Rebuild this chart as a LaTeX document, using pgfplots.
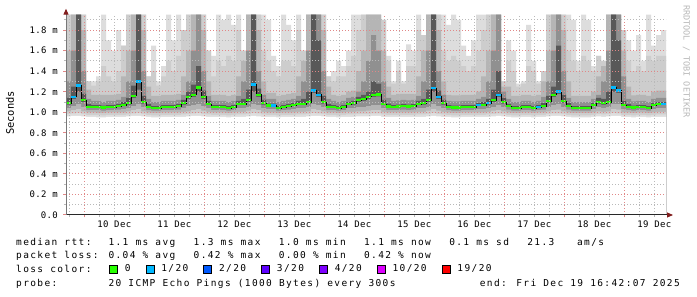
\documentclass[border=0pt]{standalone}
\usepackage{fontspec}
\setmainfont{DejaVu Sans Mono}
\usepackage{pgfplots}
\pgfplotsset{compat=1.18}
\usepackage{pgfplotstable}
\usetikzlibrary{arrows.meta}
\newfontfamily\legfam[LetterSpace=14.5]{DejaVu Sans Mono}
\newfontfamily\tickfam[LetterSpace=4]{DejaVu Sans Mono}
\newcommand\legendfont{\legfam\fontsize{9.5bp}{11bp}\selectfont}
\newcommand\tickfont{\tickfam\fontsize{9bp}{10bp}\selectfont}
\newcommand\labelfont{\fontsize{10.4bp}{12bp}\selectfont}
\newcommand\wmfont{\fontsize{8.5bp}{10bp}\selectfont}
\definecolor{gridred}{RGB}{225,135,135}
\definecolor{gridgray}{RGB}{185,185,185}
\definecolor{axisgray}{RGB}{40,40,40}
\definecolor{yaxisgray}{RGB}{120,120,120}
\definecolor{arrowred}{RGB}{130,30,30}
\definecolor{wmgray}{RGB}{185,185,185}
\definecolor{lossgreen}{HTML}{26FF00}
\definecolor{lossblue}{HTML}{00B8FF}
\definecolor{loss2}{HTML}{0059FF}
\definecolor{loss3}{HTML}{5E00FF}
\definecolor{loss4}{HTML}{7E00FF}
\definecolor{loss10}{HTML}{DD00FF}
\definecolor{loss19}{HTML}{FF0000}
\definecolor{s1}{HTML}{DDDDDD}
\definecolor{s2}{HTML}{CDCDCD}
\definecolor{s3}{HTML}{B5B5B5}
\definecolor{s4}{HTML}{909090}
\definecolor{s5}{HTML}{585858}

% t = hours since 10 Dec 00:00; m = median rtt (ms); h1..h5 / l5..l1 = smoke band edges
\pgfplotstableread{
t m h1 h2 h3 h4 h5 l5 l4 l3 l2 l1
-7.3 1.09 1.95 1.95 1.6 1.3 1.14 1.075 1.04 1.01 0.985 0.96
-5.3 1.15 1.95 1.95 1.95 1.6 1.25 1.13 1.06 1.02 0.99 0.965
-3.3 1.26 1.95 1.95 1.95 1.95 1.95 1.2 1.08 1.03 0.995 0.965
-1.3 1.12 1.95 1.95 1.8 1.4 1.18 1.1 1.05 1.01 0.985 0.96
0.7 1.05 1.3 1.3 1.22 1.13 1.08 1.04 1.02 1.0 0.975 0.955
2.7 1.05 1.3 1.26 1.17 1.11 1.07 1.04 1.02 1.0 0.975 0.955
4.7 1.05 1.35 1.3 1.17 1.11 1.07 1.04 1.02 0.995 0.975 0.95
6.7 1.045 1.95 1.45 1.17 1.1 1.065 1.035 1.015 0.995 0.97 0.95
8.7 1.05 1.7 1.35 1.17 1.11 1.07 1.04 1.02 1.0 0.975 0.955
10.7 1.05 1.6 1.3 1.17 1.11 1.07 1.04 1.02 1.0 0.975 0.955
12.7 1.06 1.8 1.4 1.18 1.12 1.08 1.05 1.025 1.0 0.975 0.955
14.7 1.07 1.65 1.65 1.35 1.15 1.1 1.06 1.03 1.0 0.975 0.955
16.7 1.09 1.95 1.95 1.6 1.3 1.14 1.075 1.04 1.01 0.98 0.96
18.7 1.16 1.95 1.95 1.95 1.6 1.26 1.14 1.06 1.02 0.99 0.965
20.7 1.30 1.95 1.95 1.95 1.95 1.95 1.22 1.08 1.03 0.995 0.965
22.7 1.10 1.95 1.95 1.8 1.4 1.16 1.085 1.05 1.01 0.985 0.96
24.7 1.05 1.35 1.35 1.25 1.13 1.08 1.04 1.02 1.0 0.975 0.955
26.7 1.04 1.65 1.4 1.16 1.1 1.06 1.03 1.015 0.995 0.97 0.95
28.7 1.04 1.3 1.26 1.16 1.1 1.06 1.03 1.015 0.995 0.97 0.95
30.7 1.05 1.45 1.35 1.17 1.11 1.07 1.04 1.02 1.0 0.975 0.955
32.7 1.05 1.95 1.5 1.17 1.11 1.07 1.04 1.02 1.0 0.975 0.955
34.7 1.05 1.7 1.4 1.17 1.11 1.07 1.04 1.02 1.0 0.975 0.955
36.7 1.06 1.95 1.55 1.18 1.12 1.08 1.05 1.025 1.0 0.975 0.955
38.7 1.09 1.8 1.8 1.35 1.17 1.12 1.075 1.04 1.005 0.98 0.955
40.7 1.15 1.95 1.95 1.6 1.3 1.2 1.13 1.06 1.01 0.985 0.96
42.7 1.17 1.95 1.95 1.95 1.6 1.27 1.15 1.07 1.02 0.99 0.965
44.7 1.24 1.95 1.95 1.95 1.95 1.45 1.2 1.08 1.03 0.995 0.965
46.7 1.15 1.95 1.95 1.8 1.4 1.21 1.13 1.06 1.015 0.985 0.96
48.7 1.08 1.6 1.6 1.3 1.16 1.11 1.07 1.04 1.005 0.98 0.955
50.7 1.05 1.55 1.35 1.17 1.11 1.07 1.04 1.02 1.0 0.975 0.955
52.7 1.05 1.95 1.5 1.17 1.11 1.07 1.04 1.02 1.0 0.975 0.955
54.7 1.05 1.9 1.45 1.17 1.11 1.07 1.04 1.02 1.0 0.975 0.955
56.7 1.04 1.95 1.55 1.16 1.1 1.06 1.03 1.015 0.995 0.97 0.95
58.7 1.05 1.85 1.5 1.17 1.11 1.07 1.04 1.02 1.0 0.975 0.955
60.7 1.08 1.95 1.8 1.35 1.16 1.11 1.07 1.04 1.005 0.98 0.955
62.7 1.08 1.6 1.6 1.5 1.3 1.13 1.07 1.04 1.005 0.98 0.955
64.7 1.12 1.95 1.95 1.95 1.6 1.22 1.1 1.05 1.015 0.985 0.96
66.7 1.27 1.95 1.95 1.95 1.95 1.95 1.2 1.08 1.03 0.995 0.965
68.7 1.17 1.95 1.95 1.8 1.4 1.23 1.15 1.07 1.02 0.99 0.96
70.7 1.09 1.95 1.6 1.3 1.17 1.12 1.075 1.04 1.005 0.98 0.955
72.7 1.065 1.9 1.5 1.19 1.13 1.085 1.055 1.03 1.0 0.975 0.955
74.7 1.065 1.55 1.4 1.19 1.13 1.085 1.055 1.03 1.0 0.975 0.955
76.7 1.04 1.45 1.35 1.16 1.1 1.06 1.03 1.015 0.995 0.97 0.95
78.7 1.05 1.95 1.5 1.17 1.11 1.07 1.04 1.02 1.0 0.975 0.955
80.7 1.06 1.85 1.5 1.18 1.12 1.08 1.05 1.025 1.0 0.975 0.955
82.7 1.07 1.7 1.45 1.19 1.13 1.09 1.06 1.03 1.0 0.975 0.955
84.7 1.08 1.95 1.8 1.35 1.16 1.11 1.07 1.04 1.005 0.98 0.955
86.7 1.08 1.6 1.6 1.5 1.3 1.13 1.07 1.04 1.005 0.98 0.955
88.7 1.10 1.95 1.95 1.95 1.6 1.2 1.085 1.05 1.01 0.985 0.96
90.7 1.21 1.95 1.95 1.95 1.95 1.95 1.19 1.08 1.03 0.995 0.965
92.7 1.17 1.95 1.95 1.95 1.95 1.7 1.15 1.07 1.02 0.99 0.965
94.7 1.10 1.95 1.95 1.8 1.4 1.16 1.085 1.05 1.01 0.985 0.96
96.7 1.05 1.35 1.35 1.25 1.13 1.08 1.04 1.02 1.0 0.975 0.955
98.7 1.05 1.4 1.3 1.17 1.11 1.07 1.04 1.02 1.0 0.975 0.955
100.7 1.04 1.5 1.35 1.16 1.1 1.06 1.03 1.015 0.995 0.97 0.95
102.7 1.05 1.45 1.35 1.17 1.11 1.07 1.04 1.02 1.0 0.975 0.955
104.7 1.08 1.6 1.45 1.2 1.14 1.1 1.07 1.04 1.005 0.98 0.955
106.7 1.09 1.95 1.55 1.21 1.15 1.11 1.075 1.04 1.005 0.98 0.955
108.7 1.12 1.95 1.8 1.4 1.2 1.15 1.1 1.05 1.01 0.985 0.96
110.7 1.13 1.95 1.95 1.6 1.3 1.17 1.11 1.05 1.01 0.985 0.96
112.7 1.15 1.95 1.95 1.95 1.5 1.2 1.13 1.06 1.015 0.985 0.96
114.7 1.17 1.95 1.95 1.95 1.75 1.3 1.15 1.07 1.02 0.99 0.965
116.7 1.175 1.95 1.95 1.95 1.6 1.28 1.155 1.07 1.02 0.99 0.965
118.7 1.08 1.9 1.9 1.6 1.3 1.12 1.07 1.04 1.005 0.98 0.955
120.7 1.055 1.55 1.5 1.25 1.14 1.085 1.045 1.02 1.0 0.975 0.955
122.7 1.05 1.3 1.28 1.17 1.11 1.07 1.04 1.02 1.0 0.975 0.955
124.7 1.055 1.5 1.4 1.18 1.115 1.075 1.045 1.02 1.0 0.975 0.955
126.7 1.06 1.3 1.28 1.18 1.12 1.08 1.05 1.025 1.0 0.975 0.955
128.7 1.055 1.66 1.45 1.18 1.115 1.075 1.045 1.02 1.0 0.975 0.955
130.7 1.06 1.6 1.45 1.18 1.12 1.08 1.05 1.025 1.0 0.975 0.955
132.7 1.08 1.95 1.8 1.35 1.16 1.11 1.07 1.04 1.005 0.98 0.955
134.7 1.09 1.75 1.75 1.6 1.3 1.13 1.075 1.04 1.005 0.98 0.955
136.7 1.12 1.95 1.95 1.95 1.6 1.22 1.1 1.05 1.015 0.985 0.96
138.7 1.235 1.95 1.95 1.95 1.95 1.95 1.2 1.08 1.03 0.995 0.965
140.7 1.15 1.95 1.95 1.8 1.4 1.21 1.13 1.06 1.015 0.985 0.96
142.7 1.09 1.95 1.6 1.3 1.17 1.12 1.075 1.04 1.005 0.98 0.955
144.7 1.05 1.85 1.5 1.17 1.11 1.07 1.04 1.02 1.0 0.975 0.955
146.7 1.045 1.95 1.55 1.165 1.105 1.065 1.035 1.015 0.995 0.97 0.95
148.7 1.045 1.9 1.5 1.165 1.105 1.065 1.035 1.015 0.995 0.97 0.95
150.7 1.05 1.65 1.45 1.17 1.11 1.07 1.04 1.02 1.0 0.975 0.955
152.7 1.05 1.55 1.4 1.17 1.11 1.07 1.04 1.02 1.0 0.975 0.955
154.7 1.05 1.7 1.45 1.17 1.11 1.07 1.04 1.02 1.0 0.975 0.955
156.7 1.07 1.95 1.6 1.2 1.13 1.09 1.06 1.03 1.0 0.975 0.955
158.7 1.07 1.95 1.8 1.35 1.15 1.1 1.06 1.03 1.0 0.975 0.955
160.7 1.09 1.95 1.95 1.6 1.3 1.13 1.075 1.04 1.005 0.98 0.955
162.7 1.12 1.95 1.95 1.95 1.6 1.22 1.1 1.05 1.015 0.985 0.96
164.7 1.17 1.95 1.95 1.95 1.95 1.4 1.15 1.07 1.02 0.99 0.965
166.7 1.10 1.3 1.3 1.25 1.2 1.14 1.085 1.05 1.01 0.985 0.96
168.7 1.06 1.7 1.5 1.25 1.13 1.08 1.05 1.025 1.0 0.975 0.955
170.7 1.04 1.6 1.4 1.16 1.1 1.06 1.03 1.015 0.995 0.97 0.95
172.7 1.04 1.28 1.25 1.16 1.1 1.06 1.03 1.015 0.995 0.97 0.95
174.7 1.05 1.3 1.28 1.17 1.11 1.07 1.04 1.02 1.0 0.975 0.955
176.7 1.05 1.85 1.45 1.17 1.11 1.07 1.04 1.02 1.0 0.975 0.955
178.7 1.04 1.5 1.4 1.16 1.1 1.06 1.03 1.015 0.995 0.97 0.95
180.7 1.05 1.3 1.28 1.17 1.11 1.07 1.04 1.02 1.0 0.975 0.955
182.7 1.06 1.4 1.4 1.3 1.15 1.09 1.05 1.025 1.0 0.975 0.955
184.7 1.11 1.95 1.95 1.6 1.3 1.16 1.095 1.05 1.01 0.985 0.96
186.7 1.17 1.95 1.95 1.95 1.6 1.25 1.15 1.07 1.02 0.99 0.965
188.7 1.20 1.95 1.95 1.95 1.95 1.65 1.18 1.08 1.025 0.99 0.965
190.7 1.11 1.95 1.95 1.8 1.4 1.17 1.095 1.05 1.01 0.985 0.96
192.7 1.06 1.95 1.6 1.3 1.14 1.09 1.05 1.025 1.0 0.975 0.955
194.7 1.04 1.9 1.5 1.16 1.1 1.06 1.03 1.015 0.995 0.97 0.95
196.7 1.04 1.5 1.4 1.16 1.1 1.06 1.03 1.015 0.995 0.97 0.95
198.7 1.04 1.95 1.55 1.16 1.1 1.06 1.03 1.015 0.995 0.97 0.95
200.7 1.04 1.9 1.5 1.16 1.1 1.06 1.03 1.015 0.995 0.97 0.95
202.7 1.07 1.45 1.4 1.2 1.13 1.09 1.06 1.03 1.0 0.975 0.955
204.7 1.10 1.55 1.55 1.35 1.17 1.14 1.085 1.05 1.01 0.985 0.96
206.7 1.09 1.5 1.5 1.45 1.3 1.13 1.075 1.04 1.005 0.98 0.955
208.7 1.10 1.95 1.95 1.95 1.6 1.2 1.085 1.05 1.01 0.985 0.96
210.7 1.24 1.95 1.95 1.95 1.95 1.95 1.2 1.08 1.03 0.995 0.965
212.7 1.21 1.95 1.95 1.95 1.95 1.7 1.19 1.08 1.025 0.99 0.965
214.7 1.07 1.8 1.8 1.6 1.35 1.11 1.06 1.03 1.0 0.975 0.955
216.7 1.05 1.7 1.5 1.25 1.13 1.08 1.04 1.02 1.0 0.975 0.955
218.7 1.045 1.6 1.4 1.165 1.105 1.065 1.035 1.015 0.995 0.97 0.95
220.7 1.05 1.75 1.45 1.17 1.11 1.07 1.04 1.02 1.0 0.975 0.955
222.7 1.05 1.5 1.4 1.17 1.11 1.07 1.04 1.02 1.0 0.975 0.955
224.7 1.04 1.95 1.55 1.16 1.1 1.06 1.03 1.015 0.995 0.97 0.95
226.7 1.07 1.65 1.5 1.2 1.13 1.09 1.06 1.03 1.0 0.975 0.955
228.7 1.08 1.75 1.55 1.21 1.14 1.1 1.07 1.04 1.005 0.98 0.955
230.7 1.08 1.8 1.55 1.21 1.14 1.1 1.07 1.04 1.005 0.98 0.955
232.7 1.08 1.8 1.55 1.21 1.14 1.1 1.07 1.04 1.005 0.98 0.955
}\smoke

\newcommand\lgd[3]{\node[anchor=base west, inner sep=0pt, font=\legendfont] at ({16bp+7.1bp*#1},#2bp) {#3};}

\begin{document}
\begin{tikzpicture}
\useasboundingbox (0,0) rectangle (697bp,297bp);
\fill[white] (0,0) rectangle (697bp,297bp);
\begin{axis}[
  at={(66bp,82bp)}, anchor=south west,
  scale only axis, width=600bp, height=200.3bp,
  xmin=-7.3, xmax=232.7, ymin=0, ymax=1.95,
  axis x line*=bottom, axis y line*=left,
  axis on top,
  x axis line style={draw=axisgray, line width=1bp, -{Triangle[length=6bp,width=5bp,color=arrowred]}, shorten >=-7bp},
  y axis line style={draw=yaxisgray, line width=1bp, -{Triangle[length=6bp,width=5bp,color=arrowred]}, shorten >=-6bp},
  grid=both,
  major grid style={gridred, line width=1bp, dash pattern=on 1bp off 2bp},
  minor grid style={gridgray, line width=1bp, dash pattern=on 1bp off 2bp},
  tick align=outside,
  major tick length=2.5bp, minor tick length=2bp,
  major tick style={gridred, line width=1bp},
  minor tick style={gridgray, line width=1bp},
  xtick={0,24,48,72,96,120,144,168,192,216},
  xticklabels={,,,,,,,,,},
  minor xtick={-6,6,12,18,30,36,42,54,60,66,78,84,90,102,108,114,126,132,138,150,156,162,174,180,186,198,204,210,222,228},
  extra x ticks={12,36,60,84,108,132,156,180,204,228},
  extra x tick labels={10 Dec,11 Dec,12 Dec,13 Dec,14 Dec,15 Dec,16 Dec,17 Dec,18 Dec,19 Dec},
  extra x tick style={grid=none, major tick length=0bp},
  ytick={0,0.2,0.4,0.6,0.8,1.0,1.2,1.4,1.6,1.8},
  yticklabels={0.0,0.2 m,0.4 m,0.6 m,0.8 m,1.0 m,1.2 m,1.4 m,1.6 m,1.8 m},
  minor ytick={0.1,0.3,0.5,0.7,0.9,1.1,1.3,1.5,1.7,1.9},
  ticklabel style={font=\tickfont},
  xticklabel style={anchor=base, inner sep=0pt, yshift=-13bp},
  yticklabel style={anchor=east, inner sep=0pt, xshift=-5.5bp},
  ylabel={Seconds},
  ylabel style={at={(axis description cs:-0.0933,0.509)}, anchor=center, font=\labelfont, inner sep=0pt},
  legend columns=7,
  legend image code/.code={\draw[#1] (0bp,-4bp) rectangle (8bp,4bp);},
  legend style={at={(axis description cs:0.0717,-0.2696)}, anchor=west, draw=none, fill=none,
    inner sep=0pt, outer sep=0pt, font=\legendfont, nodes={inner sep=0pt},
    /tikz/every odd column/.style={column sep=7bp},
    /tikz/every even column/.style={column sep=15bp}},
]
% smoke: upper bands
\addplot[forget plot, fill=s1, draw=none, const plot mark left] table[x=t,y=h1]{\smoke} \closedcycle;
\addplot[forget plot, fill=s2, draw=none, const plot mark left] table[x=t,y=h2]{\smoke} \closedcycle;
\addplot[forget plot, fill=s3, draw=none, const plot mark left] table[x=t,y=h3]{\smoke} \closedcycle;
\addplot[forget plot, fill=s4, draw=none, const plot mark left] table[x=t,y=h4]{\smoke} \closedcycle;
\addplot[forget plot, fill=s5, draw=none, const plot mark left] table[x=t,y=h5]{\smoke} \closedcycle;
% smoke: lower bands
\addplot[forget plot, fill=s4, draw=none, const plot mark left] table[x=t,y=l5]{\smoke} \closedcycle;
\addplot[forget plot, fill=s3, draw=none, const plot mark left] table[x=t,y=l4]{\smoke} \closedcycle;
\addplot[forget plot, fill=s2, draw=none, const plot mark left] table[x=t,y=l3]{\smoke} \closedcycle;
\addplot[forget plot, fill=s1, draw=none, const plot mark left] table[x=t,y=l2]{\smoke} \closedcycle;
\addplot[forget plot, fill=white, draw=none, const plot mark left] table[x=t,y=l1]{\smoke} \closedcycle;
% median
\addplot[forget plot, black, line width=0.8bp, const plot mark left] table[x=t,y=m]{\smoke};
\addplot[forget plot, lossgreen, line width=2.5bp, jump mark left] table[x=t,y=m]{\smoke};
\addplot[forget plot, lossblue, line width=2.5bp, unbounded coords=jump] coordinates {
 (-5.3,1.15) (-3.3,1.15) (-3.3,nan)
 (-3.3,1.26) (-1.3,1.26) (-1.3,nan)
 (20.7,1.30) (22.7,1.30) (22.7,nan)
 (66.7,1.27) (68.7,1.27) (68.7,nan)
 (74.7,1.065) (76.7,1.065) (76.7,nan)
 (90.7,1.21) (92.7,1.21) (92.7,nan)
 (92.7,1.17) (94.7,1.17) (94.7,nan)
 (138.7,1.235) (140.7,1.235) (140.7,nan)
 (140.7,1.15) (142.7,1.15) (142.7,nan)
 (156.7,1.07) (158.7,1.07) (158.7,nan)
 (160.7,1.09) (162.7,1.09) (162.7,nan)
 (164.7,1.17) (166.7,1.17) (166.7,nan)
 (180.7,1.05) (182.7,1.05) (182.7,nan)
 (188.7,1.20) (190.7,1.20) (190.7,nan)
 (210.7,1.24) (212.7,1.24) (212.7,nan)
 (212.7,1.21) (214.7,1.21) (214.7,nan)
 (230.7,1.08) (232.7,1.08)
};
% loss colour legend
\addlegendimage{fill=lossgreen, draw=black, line width=0.8bp}
\addlegendentry{0}
\addlegendimage{fill=lossblue, draw=black, line width=0.8bp}
\addlegendentry{1/20}
\addlegendimage{fill=loss2, draw=black, line width=0.8bp}
\addlegendentry{2/20}
\addlegendimage{fill=loss3, draw=black, line width=0.8bp}
\addlegendentry{3/20}
\addlegendimage{fill=loss4, draw=black, line width=0.8bp}
\addlegendentry{4/20}
\addlegendimage{fill=loss10, draw=black, line width=0.8bp}
\addlegendentry{10/20}
\addlegendimage{fill=loss19, draw=black, line width=0.8bp}
\addlegendentry{19/20}
\end{axis}
\lgd{0}{51.9}{median rtt:}
\lgd{13}{51.9}{1.1 ms avg}
\lgd{25}{51.9}{1.3 ms max}
\lgd{37}{51.9}{1.0 ms min}
\lgd{49}{51.9}{1.1 ms now}
\lgd{61}{51.9}{0.1 ms sd}
\lgd{72}{51.9}{21.3}
\lgd{79}{51.9}{am/s}
\lgd{0}{38.6}{packet loss:}
\lgd{13}{38.6}{0.04 \% avg}
\lgd{25}{38.6}{0.42 \% max}
\lgd{37}{38.6}{0.00 \% min}
\lgd{49}{38.6}{0.42 \% now}
\lgd{0}{24.3}{loss color:}
\lgd{0}{10.3}{probe:}
\lgd{13}{10.3}{20 ICMP Echo Pings (1000 Bytes) every 300s}
\node[anchor=base east, inner sep=0pt, font=\legendfont] at (680bp,10.3bp) {end: Fri Dec 19 16:42:07 2025};
\node[rotate=-90, anchor=base west, inner sep=0pt, font=\wmfont, text=wmgray] at (683.5bp,292bp) {RRDTOOL / TOBI OETIKER};
\end{tikzpicture}
\end{document}
